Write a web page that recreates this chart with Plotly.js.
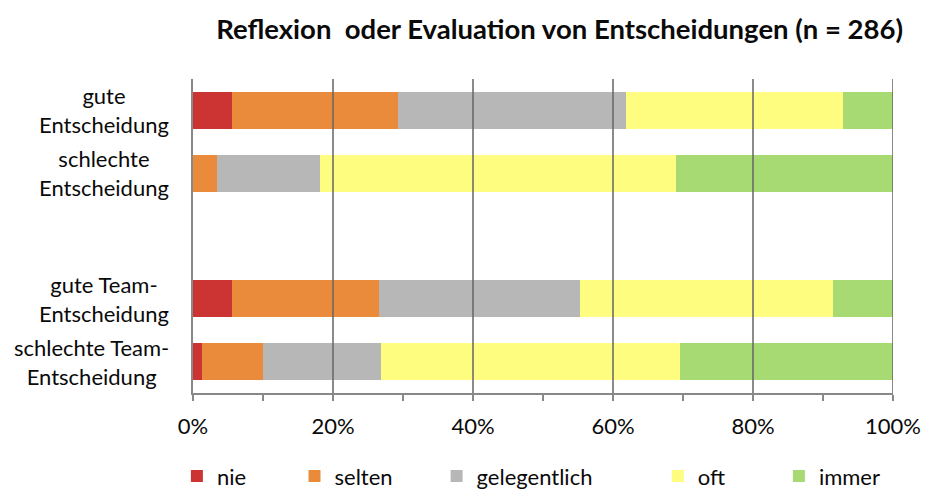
<!DOCTYPE html>
<html><head><meta charset="utf-8">
<script src="https://cdn.plot.ly/plotly-3.0.1.min.js"></script>
<style>body{margin:0;background:#fff}</style></head>
<body><div id="chart" style="width:928px;height:490px"></div>
<script>
// Categories (top to bottom) and their two-line labels
const categories = ['gute Entscheidung', 'schlechte Entscheidung', 'gute Team-Entscheidung', 'schlechte Team-Entscheidung'];
const categoryLabels = ['gute<br>Entscheidung', 'schlechte<br>Entscheidung', 'gute Team-<br>Entscheidung', 'schlechte Team-<br>Entscheidung'];
const gapCategory = ' (Abstand) ';
const axisOrder = [categories[0], categories[1], gapCategory, categories[2], categories[3]];

// Series (percent)
const seriesNames = ['nie', 'selten', 'gelegentlich', 'oft', 'immer'];
const nie = [5.6, 0, 5.6, 1.3];
const selten = [23.7, 3.4, 20.9, 8.7];
const gelegentlich = [32.6, 14.7, 28.8, 16.9];
const oft = [30.9, 50.9, 36.1, 42.7];
const immer = [7.2, 31.0, 8.6, 30.4];

// Axis ticks
const tickVals = [0, 20, 40, 60, 80, 100];
const tickText = ['0%', '20%', '40%', '60%', '80%', '100%'];

const colors = ['#CC3434', '#E98B3A', '#B7B7B7', '#FFFD80', '#A8DA73'];
const values = [nie, selten, gelegentlich, oft, immer];
const legendX = [-0.023, 0.145, 0.348, 0.664, 0.837];
const FONT = 'Lato, "Open Sans", sans-serif';

const traces = seriesNames.map((name, i) => ({
  type: 'bar', orientation: 'h', name: name,
  x: values[i], y: categories,
  marker: {color: colors[i], line: {width: 0}},
  legend: i === 0 ? 'legend' : 'legend' + (i + 1),
  hoverinfo: 'name+x'
}));

const layout = {
  width: 928, height: 490,
  margin: {l: 193, r: 35, t: 79, b: 97, autoexpand: false},
  paper_bgcolor: '#fff', plot_bgcolor: '#fff',
  font: {family: FONT, size: 22, color: '#0a0a0a'},
  barmode: 'stack', bargap: 0.41,
  title: {text: '<b>Reflexion\u00a0 oder Evaluation von Entscheidungen (n = 286)</b>',
          x: 0.603, xanchor: 'center', y: 0.94, yanchor: 'middle',
          font: {family: FONT, size: 27.5, color: '#0a0a0a'}},
  xaxis: {range: [0, 100], tickvals: tickVals, ticktext: tickText,
          showgrid: false, zeroline: false,
          showline: true, linecolor: '#888', linewidth: 2,
          ticks: 'outside', ticklen: 6, tickcolor: '#888', tickwidth: 2,
          minor: {dtick: 10, ticks: 'outside', ticklen: 6, tickcolor: '#888', tickwidth: 2, showgrid: false},
          ticklabelstandoff: 7, tickfont: {size: 22}, automargin: false},
  yaxis: {type: 'category', categoryorder: 'array', categoryarray: axisOrder,
          range: [4.5, -0.5], showticklabels: false, ticks: '',
          showgrid: false, zeroline: false, automargin: false,
          showline: true, linecolor: '#888', linewidth: 2},
  annotations: categories.map((c, i) => ({
    xref: 'paper', yref: 'y', x: -0.031, y: c, xanchor: 'right', yanchor: 'middle',
    text: categoryLabels[i], align: 'center', showarrow: false,
    font: {family: FONT, size: 22, color: '#0a0a0a'}
  })),
  shapes: tickVals.filter(v => v > 0).map(v => ({
    type: 'line', xref: 'x', yref: 'paper', x0: v, x1: v, y0: 0, y1: 1,
    layer: 'above', line: {color: 'rgba(100,100,100,0.75)', width: 2}
  })),
  showlegend: true
};
legendX.forEach((lx, i) => {
  const key = i === 0 ? 'legend' : 'legend' + (i + 1);
  layout[key] = {orientation: 'h', x: lx, xanchor: 'left', y: -0.265, yanchor: 'middle',
                 font: {family: FONT, size: 22, color: '#0a0a0a'}, bgcolor: 'rgba(0,0,0,0)', borderwidth: 0};
});

Plotly.newPlot('chart', traces, layout, {displayModeBar: false, responsive: false});
</script></body></html>
